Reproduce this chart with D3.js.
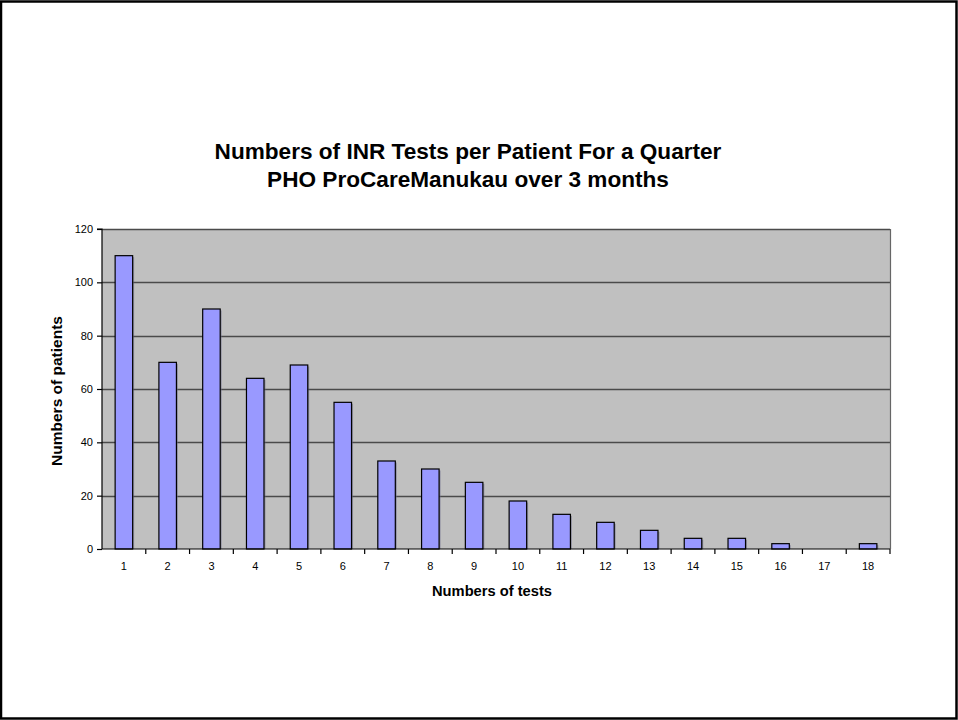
<!DOCTYPE html>
<html>
<head>
<meta charset="utf-8">
<script src="https://cdn.jsdelivr.net/npm/d3@7/dist/d3.min.js"></script>
<style>
  html, body { margin: 0; padding: 0; background: #fff; }
  svg { display: block; font-family: "Liberation Sans", Arial, sans-serif; }
</style>
</head>
<body>
<svg id="chart" width="958" height="720"></svg>
<script>
// Number of INR tests each patient had in the quarter, and how many patients had that count
const testCounts = ["1","2","3","4","5","6","7","8","9","10","11","12","13","14","15","16","17","18"];
const patientCounts = [110, 70, 90, 64, 69, 55, 33, 30, 25, 18, 13, 10, 7, 4, 4, 2, 0, 2];
const yTicks = [0, 20, 40, 60, 80, 100, 120];
const titleLines = ["Numbers of INR Tests per Patient For a Quarter", "PHO ProCareManukau over 3 months"];
const xTitle = "Numbers of tests";
const yTitle = "Numbers of patients";

const W = 958, H = 720;
const plot = { left: 102, right: 890, top: 229, bottom: 549 };

const svg = d3.select("#chart");

// outer frame
svg.append("rect")
  .attr("x", 1).attr("y", 1.5).attr("width", W - 2.5).attr("height", H - 3)
  .attr("fill", "#fff").attr("stroke", "#000").attr("stroke-width", 2.5);

const x = d3.scaleBand()
  .domain(testCounts)
  .range([plot.left, plot.right])
  .paddingInner(0.6)
  .paddingOuter(0.3);
const step = x.step();

const y = d3.scaleLinear().domain([0, 120]).range([plot.bottom, plot.top]);

// plot background
svg.append("rect")
  .attr("x", plot.left).attr("y", plot.top)
  .attr("width", plot.right - plot.left).attr("height", plot.bottom - plot.top)
  .attr("fill", "#c0c0c0");

// gridlines
svg.append("g")
  .selectAll("line")
  .data(yTicks.filter(t => t > 0))
  .join("line")
  .attr("x1", plot.left).attr("x2", plot.right)
  .attr("y1", d => Math.round(y(d)) + 0.5).attr("y2", d => Math.round(y(d)) + 0.5)
  .attr("stroke", "#4a4a4a").attr("stroke-width", 1.4);

// plot border (right side)
svg.append("line")
  .attr("x1", plot.right + 0.5).attr("x2", plot.right + 0.5)
  .attr("y1", plot.top).attr("y2", plot.bottom)
  .attr("stroke", "#666").attr("stroke-width", 1.2);

// bars with a soft drop shadow
const barData = patientCounts.map((v, i) => ({ k: testCounts[i], v })).filter(d => d.v > 0);
const bars = svg.append("g");
bars.selectAll("rect.shadow")
  .data(barData)
  .join("rect")
  .attr("class", "shadow")
  .attr("x", d => x(d.k) + 1.5)
  .attr("y", d => y(d.v) + 1.5)
  .attr("width", x.bandwidth())
  .attr("height", d => y(0) - y(d.v) - 1.5)
  .attr("fill", "#6e6e8a").attr("opacity", 0.55);

bars.selectAll("rect.bar")
  .data(barData)
  .join("rect")
  .attr("class", "bar")
  .attr("x", d => x(d.k))
  .attr("y", d => y(d.v))
  .attr("width", x.bandwidth())
  .attr("height", d => y(0) - y(d.v))
  .attr("fill", "#9999ff").attr("stroke", "#000").attr("stroke-width", 1.2);

// y axis
const yAxis = d3.axisLeft(y).tickValues(yTicks).tickSize(5).tickPadding(4);
const gy = svg.append("g")
  .attr("transform", `translate(${plot.left},0)`)
  .call(yAxis);
gy.select(".domain").attr("stroke", "#000").attr("stroke-width", 1.2).attr("d", `M-5,${plot.top}H0V${plot.bottom}`);
gy.selectAll(".tick line").attr("stroke", "#000").attr("stroke-width", 1.2);
gy.selectAll(".tick text")
  .attr("fill", "#000").style("font-size", "11px")
  .style("font-family", "'Liberation Sans', Arial, sans-serif");

// x axis: labels centered under bars, tick marks at category boundaries
const xAxis = d3.axisBottom(x).tickSize(0).tickPadding(13);
const gx = svg.append("g")
  .attr("transform", `translate(0,${plot.bottom})`)
  .call(xAxis);
gx.select(".domain").attr("stroke", "#000").attr("stroke-width", 1.2).attr("d", `M${plot.left},0H${plot.right}`);
gx.selectAll(".tick text")
  .attr("fill", "#000").style("font-size", "11px")
  .style("font-family", "'Liberation Sans', Arial, sans-serif");

gx.append("g")
  .selectAll("line")
  .data(testCounts)
  .join("line")
  .attr("x1", d => x(d) - step * 0.3 + step)
  .attr("x2", d => x(d) - step * 0.3 + step)
  .attr("y1", 0).attr("y2", 5)
  .attr("stroke", "#000").attr("stroke-width", 1.2);

// chart title
const title = svg.append("text")
  .attr("x", 468).attr("y", 159)
  .attr("text-anchor", "middle")
  .style("font-size", "22.6px").style("font-weight", "bold").attr("fill", "#000");
title.selectAll("tspan")
  .data(titleLines)
  .join("tspan")
  .attr("x", 468)
  .attr("dy", (d, i) => i === 0 ? 0 : 28)
  .text(d => d);

// axis titles
svg.append("text")
  .attr("x", 492).attr("y", 596)
  .attr("text-anchor", "middle")
  .style("font-size", "14.7px").style("font-weight", "bold")
  .text(xTitle);

svg.append("text")
  .attr("transform", `translate(62,391) rotate(-90)`)
  .attr("text-anchor", "middle")
  .style("font-size", "15.5px").style("font-weight", "bold")
  .text(yTitle);
</script>
</body>
</html>
